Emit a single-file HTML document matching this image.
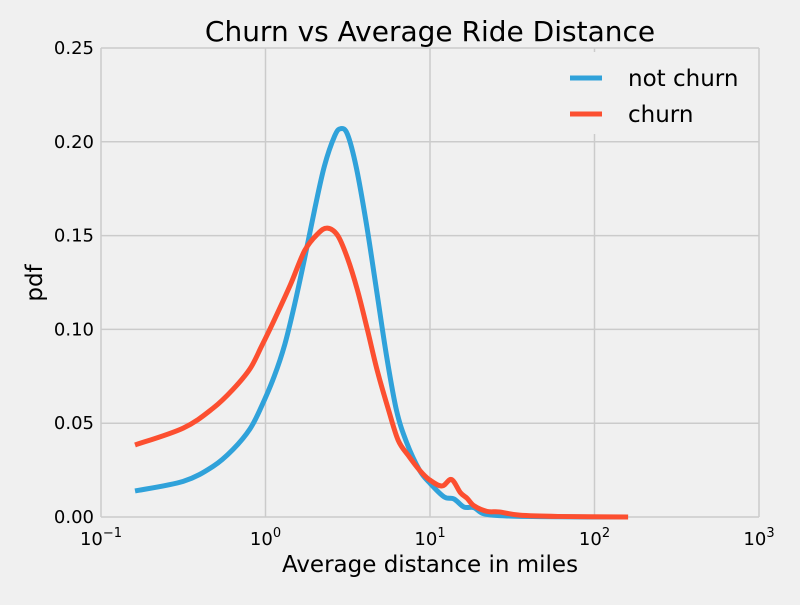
<!DOCTYPE html>
<html><head><meta charset="utf-8"><style>
body{margin:0;background:#f0f0f0;}
svg text{font-family:"DejaVu Sans","Liberation Sans",sans-serif;fill:#000;}
</style></head><body>
<svg width="800" height="600" xmlns="http://www.w3.org/2000/svg">
<rect width="800" height="600" fill="#f0f0f0"/>
<g id="grid"></g>
<g id="ticks"></g>
<rect x="556" y="52" width="200" height="82" fill="#f0f0f0"/>
<g id="series"></g>
<text x="430" y="41" font-size="28" text-anchor="middle">Churn vs Average Ride Distance</text>
<text x="430" y="572" font-size="23" text-anchor="middle">Average distance in miles</text>
<text x="42" y="283" font-size="23" text-anchor="middle" transform="rotate(-90 42 283)">pdf</text>
<g>
<line x1="570" y1="78" x2="602" y2="78" stroke="#30a2da" stroke-width="5"/>
<text x="628" y="86" font-size="23">not churn</text>
<line x1="570" y1="114" x2="602" y2="114" stroke="#fc4f30" stroke-width="5"/>
<text x="628" y="122" font-size="23">churn</text>
</g>
</svg>
<script>
const xTicksExp=[-1,0,1,2,3];
const yTicks=[0,0.05,0.10,0.15,0.20,0.25];
const yTickLabels=["0.00","0.05","0.10","0.15","0.20","0.25"];
const notChurnX=[0.161,0.316,0.48,0.634,0.805,0.946,1.13,1.31,1.50,1.73,1.99,2.28,2.63,2.86,3.15,3.57,4.11,4.73,5.44,6.25,7.19,8.63,10,12.2,14.0,16.1,18.5,21.4,30,60,160];
const notChurnY=[0.0139,0.019,0.027,0.036,0.047,0.059,0.075,0.092,0.113,0.138,0.164,0.187,0.203,0.207,0.204,0.186,0.156,0.121,0.086,0.057,0.040,0.025,0.018,0.0107,0.0096,0.0053,0.005,0.0016,0.0005,0.0001,0];
const churnX=[0.161,0.316,0.48,0.634,0.805,0.946,1.13,1.42,1.73,2.08,2.38,2.75,3.15,3.62,4.16,4.78,5.6,6.4,7.35,8.63,9.87,11.8,13.5,15.3,16.8,18.5,22.2,26.4,35,60,160];
const churnY=[0.0384,0.0474,0.058,0.068,0.079,0.091,0.105,0.124,0.142,0.151,0.154,0.150,0.138,0.121,0.100,0.078,0.057,0.041,0.033,0.025,0.020,0.0165,0.020,0.013,0.010,0.006,0.003,0.0027,0.001,0.0003,0];
const NS="http://www.w3.org/2000/svg";
const X0=101,X1=759,Y0=517,Y1=48;
function xs(v){return X0+(Math.log10(v)+1)/4*(X1-X0);}
function ys(v){return Y0-v/0.25*(Y0-Y1);}
function mk(tag,attrs,parent){const e=document.createElementNS(NS,tag);for(const k in attrs)e.setAttribute(k,attrs[k]);parent.appendChild(e);return e;}
const grid=document.getElementById('grid'),ticks=document.getElementById('ticks'),series=document.getElementById('series');
yTicks.forEach((t,i)=>{
  const l=mk('line',{x1:X0,x2:X1,y1:ys(t),y2:ys(t),stroke:'#cbcbcb','stroke-width':1.5},grid);
  
  
  const tx=mk('text',{x:94,y:ys(t)+6,'font-size':18,'text-anchor':'end'},ticks);
  tx.textContent=yTickLabels[i];
  
  
});
xTicksExp.forEach(e=>{
  const x=xs(Math.pow(10,e));
  const l=mk('line',{x1:x,x2:x,y1:Y1,y2:Y0,stroke:'#cbcbcb','stroke-width':1.5},grid);
  
  
  const tx=mk('text',{x:x,y:545,'font-size':18,'text-anchor':'middle'},ticks);
  tx.innerHTML='10<tspan dy="-8" font-size="13">'+(e<0?'\u2212'+(-e):e)+'</tspan>';
  
  
});
function smoothPath(pts){
  let d='M'+pts[0][0]+','+pts[0][1];
  for(let i=0;i<pts.length-1;i++){
    const p0=pts[Math.max(0,i-1)],p1=pts[i],p2=pts[i+1],p3=pts[Math.min(pts.length-1,i+2)];
    const c1=[p1[0]+(p2[0]-p0[0])/6,p1[1]+(p2[1]-p0[1])/6];
    const c2=[p2[0]-(p3[0]-p1[0])/6,p2[1]-(p3[1]-p1[1])/6];
    d+=' C'+c1[0]+','+c1[1]+' '+c2[0]+','+c2[1]+' '+p2[0]+','+p2[1];
  }
  return d;
}
function drawLine(xa,ya,color,name){
  const pts=xa.map((x,i)=>[xs(x),ys(ya[i])]);
  const p=mk('path',{d:smoothPath(pts),fill:'none',stroke:color,'stroke-width':5,'stroke-linejoin':'round'},series);
  
  
}
drawLine(notChurnX,notChurnY,'#30a2da','not-churn-line');
drawLine(churnX,churnY,'#fc4f30','churn-line');
</script>
</body></html>
